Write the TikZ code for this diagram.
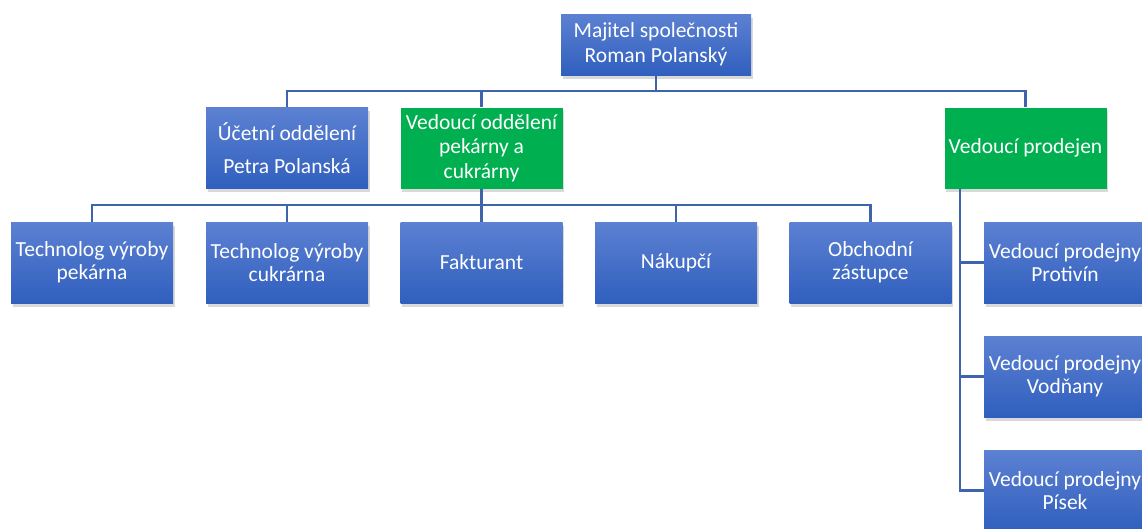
\documentclass[tikz,border=0pt]{standalone}
\usepackage{fontspec}
\setmainfont{Carlito}
\usetikzlibrary{shadows}
\definecolor{btop}{HTML}{5C81D2}
\definecolor{bmid}{HTML}{4472C8}
\definecolor{bbot}{HTML}{305FBE}
\definecolor{gfill}{HTML}{00B050}
\definecolor{lineblue}{HTML}{3F64AE}
\tikzset{
  box/.style={rectangle, minimum width=162pt, minimum height=81pt, text=white, align=center,
    font=\fontsize{21.5}{23}\selectfont, inner sep=0pt,
    drop shadow={opacity=0.3, shadow xshift=1.5pt, shadow yshift=-3.5pt}},
  bluebox/.style={box, top color=btop, middle color=bmid, bottom color=bbot},
  greenbox/.style={box, fill=gfill},
  conn/.style={draw=lineblue, line width=2.2pt},
}
\begin{document}
\begin{tikzpicture}[x=1pt,y=-1pt]
\useasboundingbox (0,0) rectangle (1142,528);
\clip (0,0) rectangle (1142,528);
% nodes
\node[bluebox, minimum width=190pt, minimum height=61pt, font=\fontsize{21.5}{25}\selectfont] (root) at (656,44.5) {Majitel společnosti\\Roman Polanský};
\node[bluebox] (ucet) at (287,148) {Účetní oddělení\\[10pt]Petra Polanská};
\node[greenbox, font=\fontsize{21.5}{24.5}\selectfont] (vod) at (481.5,148) {Vedoucí oddělení\\pekárny a\\cukrárny};
\node[greenbox] (prod) at (1025.5,148) {Vedoucí prodejen};
\node[bluebox] (t1) at (92,262.5) {Technolog výroby\\pekárna};
\node[bluebox] (t2) at (287,262.5) {Technolog výroby\\cukrárna};
\node[bluebox] (t3) at (481.5,262.5) {Fakturant};
\node[bluebox] (t4) at (676,262.5) {Nákupčí};
\node[bluebox] (t5) at (870.5,262.5) {Obchodní\\zástupce};
\node[bluebox] (p1) at (1065,262.5) {Vedoucí prodejny\\Protivín};
\node[bluebox] (p2) at (1065,376.5) {Vedoucí prodejny\\Vodňany};
\node[bluebox] (p3) at (1065,490.5) {Vedoucí prodejny\\Písek};
% connectors
\draw[conn] (root.south) -- ++(0,15.5) -| (ucet.north);
\draw[conn] (root.south) -- ++(0,15.5) -| (vod.north);
\draw[conn] (root.south) -- ++(0,15.5) -| (prod.north);
\foreach \t in {t1,t2,t3,t4,t5}{
  \draw[conn] (vod.south) -- ++(0,16) -| (\t.north);
}
\foreach \p in {p1,p2,p3}{
  \draw[conn] ([xshift=16pt]prod.south west) |- (\p.west);
}
\end{tikzpicture}
\end{document}
